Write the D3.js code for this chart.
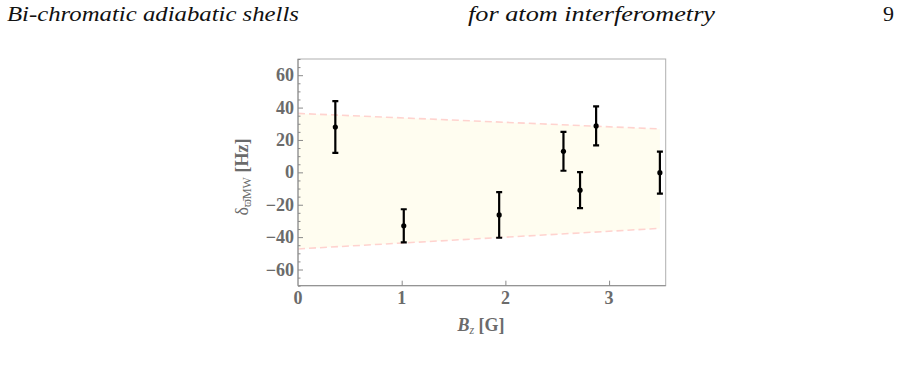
<!DOCTYPE html>
<html lang="en">
<head>
    <meta charset="UTF-8">
    <title>Bi-chromatic adiabatic shells</title>
    <style>
        body {
            margin: 0;
            padding: 0;
            background: #fff;
            overflow: hidden;
        }
    </style>
</head>
<body>
<svg id="graph" width="900" height="367"></svg>
<script src="https://cdn.jsdelivr.net/npm/d3@7"></script>
<script>
    // measured points: field B_z [G], shift [Hz], error bar half-width [Hz]
    const bz = [0.36, 1.02, 1.94, 2.56, 2.72, 2.875, 3.49];
    const shift = [28, -33, -26.3, 13, -11, 28.7, -0.2];
    const err = [16, 10.2, 14.1, 12, 11.1, 12, 13];

    // band edges (dashed lines) at the ends of the field range
    const bandX = [0, 3.49];
    const bandTop = [36.4, 26.8];
    const bandBottom = [-47.3, -34.6];

    const xTicks = [0, 1, 2, 3];
    const yTicks = [-60, -40, -20, 0, 20, 40, 60];

    const svg = d3.select("#graph");
    const grey = "#8a8a8a";
    const labelGrey = "#6b6b6b";
    const serif = "'Liberation Serif', 'DejaVu Serif', serif";

    // running header
    const head = svg.append("g")
        .attr("font-family", serif)
        .attr("font-style", "italic")
        .attr("font-size", 22)
        .attr("fill", "#111");
    head.append("text").attr("x", 7).attr("y", 21)
        .attr("textLength", 292).attr("lengthAdjust", "spacingAndGlyphs")
        .text("Bi-chromatic adiabatic shells");
    head.append("text").attr("x", 468).attr("y", 21)
        .attr("textLength", 247).attr("lengthAdjust", "spacingAndGlyphs")
        .text("for atom interferometry");
    head.append("text").attr("x", 894).attr("y", 21).attr("text-anchor", "end")
        .attr("font-style", "normal").text("9");

    const x = d3.scaleLinear().domain([0, 3.546]).range([298, 665.7]);
    const y = d3.scaleLinear().domain([-70, 70]).range([285.7, 59]);

    // shaded band
    const band = bandX.map((b, i) => ({x: b, lo: bandBottom[i], hi: bandTop[i]}));
    svg.append("path")
        .datum(band)
        .attr("d", d3.area().x(d => x(d.x)).y0(d => y(d.lo)).y1(d => y(d.hi)))
        .attr("fill", "#fffdf0");
    ["hi", "lo"].forEach(k => {
        svg.append("path")
            .datum(band)
            .attr("d", d3.line().x(d => x(d.x)).y(d => y(d[k])))
            .attr("fill", "none")
            .attr("stroke", "#ffd3cf")
            .attr("stroke-width", 1.6)
            .attr("stroke-dasharray", "7,4");
    });

    // frame
    svg.append("rect")
        .attr("x", x(0)).attr("y", y(70))
        .attr("width", x(3.546) - x(0)).attr("height", y(-70) - y(70))
        .attr("fill", "none").attr("stroke", "#b0b0b0").attr("stroke-width", 1);

    // axes with inward ticks
    const yMinor = d3.range(-70, 70.1, 5).filter(v => !yTicks.includes(v));
    const yAxis = svg.append("g").attr("transform", `translate(${x(0)},0)`);
    yAxis.call(d3.axisRight(y).tickValues(yMinor).tickSize(2.5).tickFormat(""));
    yAxis.call(g => g.select(".domain").remove());
    const yMajor = svg.append("g").attr("transform", `translate(${x(0)},0)`)
        .call(d3.axisRight(y).tickValues(yTicks).tickSize(5).tickFormat(""));
    yMajor.select(".domain").attr("stroke", grey).attr("d", `M0,${y(70)}V${y(-70)}`);
    svg.selectAll(".tick line").attr("stroke", grey);

    const xAxis = svg.append("g").attr("transform", `translate(0,${y(-70)})`)
        .call(d3.axisTop(x).tickValues(xTicks.filter(v => v > 0)).tickSize(5).tickFormat(""));
    xAxis.select(".domain").attr("stroke", grey).attr("d", `M${x(0)},0H${x(3.546)}`);
    xAxis.selectAll(".tick line").attr("stroke", grey);

    // tick labels
    svg.append("g").selectAll("text")
        .data(yTicks).join("text")
        .attr("x", x(0) - 4)
        .attr("y", d => y(d) + 6)
        .attr("text-anchor", "end")
        .attr("font-family", serif).attr("font-weight", "bold").attr("font-size", 18)
        .attr("fill", labelGrey)
        .text(d => d < 0 ? "\u2212" + Math.abs(d) : d);
    svg.append("g").selectAll("text")
        .data(xTicks).join("text")
        .attr("x", d => x(d))
        .attr("y", 304)
        .attr("text-anchor", "middle")
        .attr("font-family", serif).attr("font-weight", "bold").attr("font-size", 18)
        .attr("fill", labelGrey)
        .text(d => d);

    // axis labels
    const xl = svg.append("text")
        .attr("x", 481).attr("y", 331)
        .attr("text-anchor", "middle")
        .attr("font-family", serif).attr("font-size", 18).attr("fill", labelGrey);
    xl.append("tspan").attr("font-weight", "bold").attr("font-style", "italic").text("B");
    xl.append("tspan").attr("font-style", "italic").attr("font-size", 12).attr("dy", 3).text("z");
    xl.append("tspan").attr("font-weight", "bold").attr("dy", -3).text(" [G]");

    const yl = svg.append("text")
        .attr("transform", `translate(248,177) rotate(-90)`)
        .attr("text-anchor", "middle")
        .attr("font-family", serif).attr("font-size", 18).attr("fill", labelGrey);
    yl.append("tspan").text("\u03b4");
    yl.append("tspan").attr("font-size", 12).attr("dy", 3).text("\u03d6\u0304MW");
    yl.append("tspan").attr("font-weight", "bold").attr("dy", -3).text(" [Hz]");

    // error bars
    const pts = bz.map((b, i) => ({x: b, y: shift[i], e: err[i]}));
    const eb = svg.append("g").selectAll("g").data(pts).join("g");
    eb.append("path")
        .attr("d", d => `M${x(d.x)},${y(d.y + d.e)}V${y(d.y - d.e)}` +
            `M${x(d.x) - 3},${y(d.y + d.e)}h6M${x(d.x) - 3},${y(d.y - d.e)}h6`)
        .attr("stroke", "#000").attr("stroke-width", 2.2).attr("fill", "none");
    eb.append("circle")
        .attr("cx", d => x(d.x)).attr("cy", d => y(d.y))
        .attr("r", 2.6).attr("fill", "#000");
</script>
</body>
</html>
